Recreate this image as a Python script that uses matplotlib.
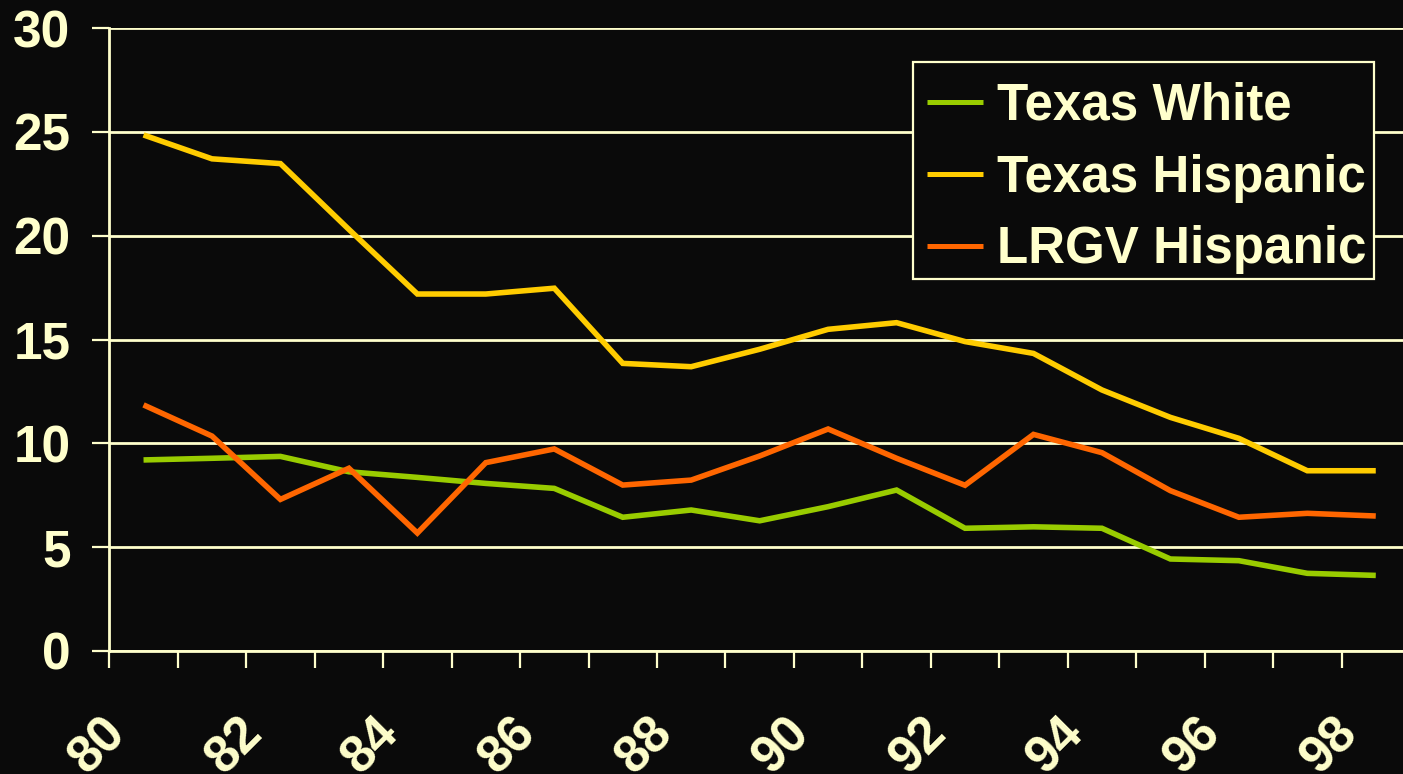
import matplotlib
matplotlib.use("Agg")
import matplotlib.pyplot as plt
import matplotlib.transforms as mtransforms
from matplotlib.patches import Rectangle
from matplotlib.lines import Line2D

years = ["80", "81", "82", "83", "84", "85", "86", "87", "88", "89",
         "90", "91", "92", "93", "94", "95", "96", "97", "98"]
texas_white = [9.2, 9.28, 9.37, 8.63, 8.36, 8.07, 7.83, 6.44, 6.79, 6.27,
               6.95, 7.75, 5.91, 5.98, 5.91, 4.43, 4.35, 3.74, 3.64]
texas_hispanic = [24.85, 23.7, 23.47, 20.3, 17.19, 17.19, 17.47, 13.85, 13.69, 14.53,
                  15.49, 15.81, 14.9, 14.33, 12.57, 11.25, 10.24, 8.68, 8.68]
lrgv_hispanic = [11.85, 10.35, 7.3, 8.8, 5.68, 9.07, 9.73, 7.99, 8.23, 9.39,
                 10.69, 9.28, 7.98, 10.43, 9.55, 7.72, 6.44, 6.63, 6.5]
series_names = ["Texas White", "Texas Hispanic", "LRGV Hispanic"]
y_ticks = [0, 5, 10, 15, 20, 25, 30]

BG = "#0a0a0a"
FG = "#FFFFCC"
COLORS = ["#99CC00", "#FFCC00", "#FF6600"]

plt.rcParams['font.family'] = ['Liberation Sans', 'DejaVu Sans']
plt.rcParams['font.weight'] = 'bold'

W, H = 1403, 774
fig = plt.figure(figsize=(W / 100, H / 100), dpi=100, facecolor=BG)
left, right, bottom, top = 109.3, 1410.0, 651.0, 28.0
ax = fig.add_axes([left / W, (H - bottom) / H, (right - left) / W, (bottom - top) / H])
ax.set_facecolor(BG)

x = list(range(len(years)))
for vals, name, c in zip([texas_white, texas_hispanic, lrgv_hispanic], series_names, COLORS):
    ax.plot(x, vals, color=c, lw=4.0, label=name, solid_joinstyle='miter',
            solid_capstyle='butt', zorder=3)

ax.set_xlim(-0.5, len(years) - 0.5)
ax.set_ylim(0, 30)

# gridlines
ax.set_yticks(y_ticks)
ax.yaxis.grid(True, color=FG, lw=2.0, zorder=1)
ax.set_axisbelow(True)
ax.set_yticklabels([str(v) for v in y_ticks], color=FG, fontsize=37, fontweight='bold')
ax.tick_params(axis='y', direction='out', length=12.5, width=1.6, color=FG, pad=15.5)

# x tick marks at category boundaries
ax.set_xticks([i - 0.5 for i in range(len(years) + 1)])
ax.set_xticklabels([])
ax.tick_params(axis='x', direction='out', length=12.5, width=1.6, color=FG)

for s in ['top', 'right']:
    ax.spines[s].set_visible(False)
for s in ['left', 'bottom']:
    ax.spines[s].set_color(FG)
    ax.spines[s].set_linewidth(2.0)

# rotated category labels (every other)
trans = mtransforms.blended_transform_factory(ax.transData, ax.transAxes)
for i, lab in enumerate(years):
    if i % 2 == 0:
        off = mtransforms.ScaledTranslation(-26 / 100, -75 / 100, fig.dpi_scale_trans)
        ax.text(i, 0, lab, transform=trans + off, rotation=45, rotation_mode='anchor',
                ha='right', va='center', color=FG, fontsize=37, fontweight='bold',
                clip_on=False)

# legend drawn in figure pixel coordinates (origin top-left converted)
def fx(px):
    return px / W

def fy(py):
    return 1 - py / H

box = Rectangle((fx(912.7), fy(279)), fx(1374) - fx(912.7), fy(62) - fy(279),
                transform=fig.transFigure, facecolor=BG, edgecolor=FG, lw=1.6, zorder=10)
fig.add_artist(box)
line_y = [101.7, 173.5, 245.5]
base_y = [120.0, 191.7, 263.3]
for name, c, ly, by in zip(series_names, COLORS, line_y, base_y):
    fig.add_artist(Line2D([fx(926.7), fx(983)], [fy(ly), fy(ly)], transform=fig.transFigure,
                          color=c, lw=3.6, solid_capstyle='butt', zorder=11))
    fig.text(fx(996.7), fy(by), name, color=FG, fontsize=36.8, fontweight='bold',
             ha='left', va='baseline', zorder=11)

fig.savefig("out.png", dpi=100, facecolor=BG)
